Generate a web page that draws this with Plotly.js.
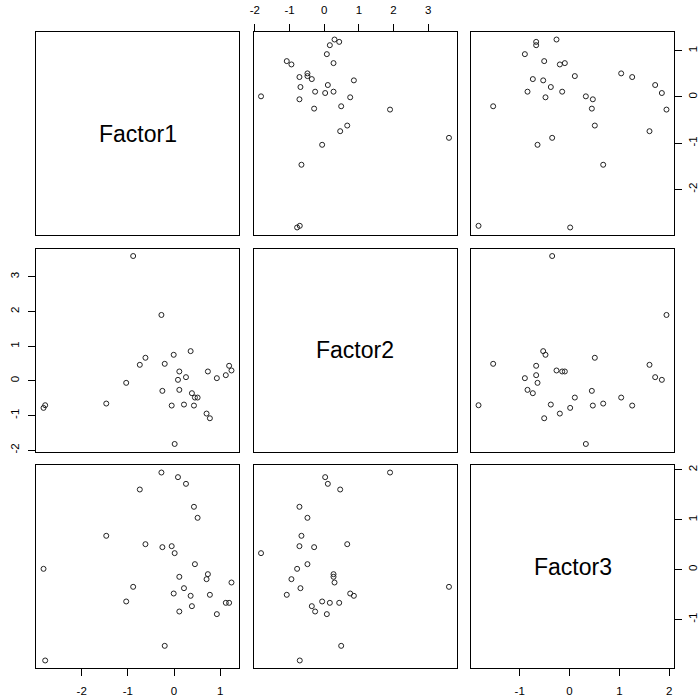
<!DOCTYPE html>
<html>
<head>
<meta charset="utf-8">
<script src="https://cdn.plot.ly/plotly-3.0.1.min.js"></script>
<style>html,body{margin:0;padding:0;background:#fff;}#chart{width:700px;height:699px;}</style>
</head>
<body>
<div id="chart"></div>
<script>
// Variable names (diagonal labels)
const varNames = ["Factor1", "Factor2", "Factor3"];

const factor1 = [-0.885, -0.273, 0.360, -0.007, -0.619, -0.201, -0.741, 0.115, 0.734, 1.194,
                  1.245, 1.122, 0.928, 0.259, 0.086, -1.036, 0.115, -0.252, 0.388, 0.453,
                  0.511, -1.468, -0.050, 0.216, 0.432, 0.705, 0.777, -2.791, -2.827, 0.014];
const factor2 = [3.600, 1.900, 0.857, 0.751, 0.665, 0.491, 0.462, 0.270, 0.270, 0.434,
                  0.299, 0.164, 0.077, 0.106, 0.029, -0.058, -0.260, -0.289, -0.356, -0.482,
                  -0.482, -0.655, -0.713, -0.684, -0.713, -0.944, -1.079, -0.703, -0.780, -1.821];
const factor3 = [-0.348, 1.946, -0.528, -0.482, 0.508, -1.532, 1.605, -0.147, -0.094, -0.669,
                  -0.261, -0.669, -0.896, 1.719, 1.853, -0.642, -0.843, 0.448, -0.736, 0.107,
                  1.037, 0.676, 0.468, -0.375, 1.258, -0.194, -0.508, -1.826, 0.013, 0.328];

// Tick values per variable
const ticksF1 = [-2, -1, 0, 1];
const ticksF2 = [-2, -1, 0, 1, 2, 3];
const ticksF3 = [-1, 0, 1, 2];

const vars = [factor1, factor2, factor3];
const tickSets = [ticksF1, ticksF2, ticksF3];

// R-style range: data range extended by 4% each side
function rng(a) {
  const mn = Math.min(...a), mx = Math.max(...a), r = mx - mn;
  return [mn - 0.04 * r, mx + 0.04 * r];
}
const ranges = vars.map(rng);

const W = 700, H = 699;
const colStart = [36, 253.5, 471], colW = 203;
const rowStart = [32, 248.5, 465], rowH = 203;

const FONT = "Liberation Sans, Arial, sans-serif";
const traces = [];
const layout = {
  width: W, height: H,
  margin: {l: 0, r: 0, t: 0, b: 0},
  paper_bgcolor: "#ffffff", plot_bgcolor: "#ffffff",
  showlegend: false,
  font: {family: FONT, size: 11, color: "#000"},
  annotations: []
};

// which axes show ticks (R pairs convention for 3 variables)
function xTickSide(r, c) {
  if (r === 2 && (c === 0 || c === 2)) return "bottom";
  if (r === 0 && c === 1) return "top";
  return null;
}
function yTickSide(r, c) {
  if (c === 0 && r === 1) return "left";
  if (c === 2 && (r === 0 || r === 2)) return "right";
  return null;
}
const labels = t => t.map(v => String(v));

for (let r = 0; r < 3; r++) {
  for (let c = 0; c < 3; c++) {
    const k = r * 3 + c + 1;
    const xa = "xaxis" + (k === 1 ? "" : k), ya = "yaxis" + (k === 1 ? "" : k);
    const xs = "x" + (k === 1 ? "" : k), ys = "y" + (k === 1 ? "" : k);
    const xside = xTickSide(r, c), yside = yTickSide(r, c);
    layout[xa] = {
      domain: [colStart[c] / W, (colStart[c] + colW) / W],
      range: ranges[c], anchor: ys,
      showgrid: false, zeroline: false,
      showline: true, mirror: true, linecolor: "#000", linewidth: 1,
      side: xside || "bottom",
      ticks: xside ? "outside" : "", ticklen: 7, tickcolor: "#000", tickwidth: 1,
      showticklabels: !!xside, tickmode: "array",
      tickvals: tickSets[c], ticktext: labels(tickSets[c]), ticklabelstandoff: 5,
      tickfont: {family: FONT, size: 11.5, color: "#000"}
    };
    layout[ya] = {
      domain: [1 - (rowStart[r] + rowH) / H, 1 - rowStart[r] / H],
      range: ranges[r], anchor: xs,
      showgrid: false, zeroline: false,
      showline: true, mirror: true, linecolor: "#000", linewidth: 1,
      side: yside || "left",
      ticks: yside ? "outside" : "", ticklen: 7, tickcolor: "#000", tickwidth: 1,
      showticklabels: !!yside, tickmode: "array",
      tickvals: tickSets[r], ticktext: labels(tickSets[r]), tickangle: -90,
      ticklabelstandoff: yside === "right" ? 1 : 4,
      tickfont: {family: FONT, size: 11.5, color: "#000"}
    };
    if (r === c) {
      layout.annotations.push({
        xref: xs + " domain", yref: ys + " domain", x: 0.5, y: 0.5,
        text: varNames[r], showarrow: false,
        font: {family: FONT, size: 23, color: "#000"}
      });
      traces.push({x: [], y: [], xaxis: xs, yaxis: ys, type: "scatter", mode: "markers", hoverinfo: "skip"});
    } else {
      traces.push({
        x: vars[c], y: vars[r], xaxis: xs, yaxis: ys,
        type: "scatter", mode: "markers",
        marker: {symbol: "circle-open", size: 5, color: "#222", line: {width: 1, color: "#222"}}
      });
    }
  }
}

Plotly.newPlot("chart", traces, layout, {staticPlot: true, displayModeBar: false});
</script>
</body>
</html>
